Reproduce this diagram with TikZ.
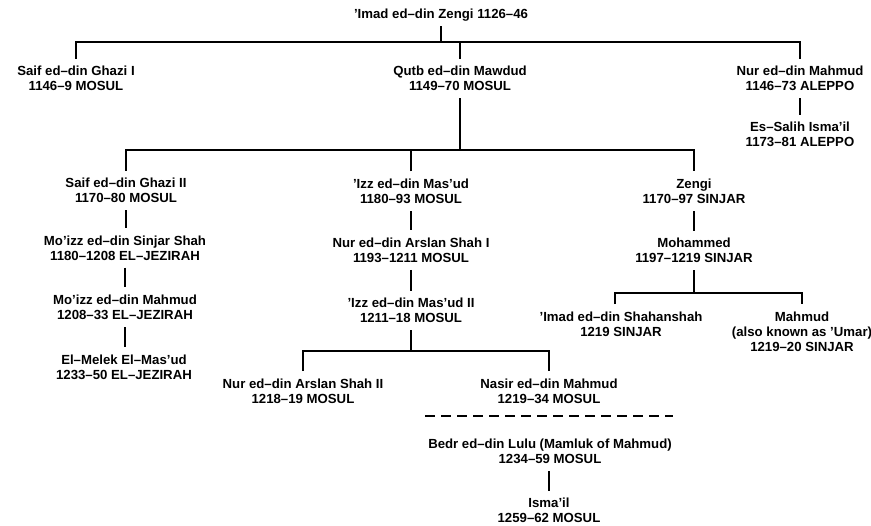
\documentclass[tikz,border=0pt]{standalone}
\usepackage{fontspec}
\setmainfont{Liberation Sans}
\newcommand\zTop{\rule{0pt}{14pt}}
\newcommand\zBot{\rule[-4.35pt]{0pt}{4.35pt}}
\begin{document}
\begin{tikzpicture}[x=1pt,y=-1pt,
  person/.style={align=center, inner xsep=2pt, inner ysep=3pt, font=\fontsize{13.2}{15}\selectfont\bfseries},
  link/.style={line width=1.4pt},
  sepline/.style={line width=1.4pt, dash pattern=on 10pt off 6pt}]
\useasboundingbox (0,0) rectangle (871,526);

% generation 0
\node[person] (zengi) at (441,13.7) {\zTop ’Imad ed–din Zengi 1126–46\zBot};
% generation 1
\node[person] (saif1) at (76,78.5) {\zTop Saif ed–din Ghazi I\\1146–9 MOSUL\zBot};
\node[person] (qutb) at (460,78.5) {\zTop Qutb ed–din Mawdud\\1149–70 MOSUL\zBot};
\node[person] (nur1) at (800,78.5) {\zTop Nur ed–din Mahmud\\1146–73 ALEPPO\zBot};
\node[person] (salih) at (800,134.5) {\zTop Es–Salih Isma’il\\1173–81 ALEPPO\zBot};
% generation 2
\node[person] (saif2) at (126,190.5) {\zTop Saif ed–din Ghazi II\\1170–80 MOSUL\zBot};
\node[person] (sinjar) at (125,247.7) {\zTop Mo’izz ed–din Sinjar Shah\\1180–1208 EL–JEZIRAH\zBot};
\node[person] (mahmudj) at (125,307.3) {\zTop Mo’izz ed–din Mahmud\\1208–33 EL–JEZIRAH\zBot};
\node[person] (melek) at (124,367) {\zTop El–Melek El–Mas’ud\\1233–50 EL–JEZIRAH\zBot};

\node[person] (izz1) at (411,191.3) {\zTop ’Izz ed–din Mas’ud\\1180–93 MOSUL\zBot};
\node[person] (arslan1) at (411,250) {\zTop Nur ed–din Arslan Shah I\\1193–1211 MOSUL\zBot};
\node[person] (izz2) at (411,310.4) {\zTop ’Izz ed–din Mas’ud II\\1211–18 MOSUL\zBot};
\node[person] (arslan2) at (303,391) {\zTop Nur ed–din Arslan Shah II\\1218–19 MOSUL\zBot};
\node[person] (nasir) at (549,391) {\zTop Nasir ed–din Mahmud\\1219–34 MOSUL\zBot};
\node[person] (bedr) at (550,451.3) {\zTop Bedr ed–din Lulu (Mamluk of Mahmud)\\1234–59 MOSUL\zBot};
\node[person] (ismail) at (549,510.5) {\zTop Isma’il\\1259–62 MOSUL\zBot};

\node[person] (zengi2) at (694,191.3) {\zTop Zengi\\1170–97 SINJAR\zBot};
\node[person] (mohammed) at (694,250.4) {\zTop Mohammed\\1197–1219 SINJAR\zBot};
\node[person] (shahan) at (621,323.9) {\zTop ’Imad ed–din Shahanshah\\1219 SINJAR\zBot};
\node[person] (mahmudu) at (802,331.7) {\zTop Mahmud\\(also known as ’Umar)\\1219–20 SINJAR\zBot};

% bar levels
\coordinate (bar1) at (441,42);
\coordinate (bar2) at (460,150);
\coordinate (bar3) at (411,351);
\coordinate (bar4) at (694,293);
\coordinate (dashL) at (425,416);
\coordinate (dashR) at (673,416);

% connectors
\draw[link] (zengi.south) -- (bar1);
\draw[link] (saif1.north) |- (nur1.north |- bar1) -- (nur1.north);
\draw[link] (qutb.north) -- (qutb.north |- bar1);
\draw[link] (nur1.south) -- (salih.north);

\draw[link] (qutb.south) -- (bar2);
\draw[link] (saif2.north) |- (zengi2.north |- bar2) -- (zengi2.north);
\draw[link] (izz1.north) -- (izz1.north |- bar2);

\draw[link] (saif2.south) -- (sinjar.north -| saif2.south);
\draw[link] (sinjar.south) -- (mahmudj.north);
\draw[link] (mahmudj.south) -- (melek.north -| mahmudj.south);

\draw[link] (izz1.south) -- (arslan1.north);
\draw[link] (arslan1.south) -- (izz2.north);
\draw[link] (izz2.south) -- (bar3);
\draw[link] (arslan2.north) |- (nasir.north |- bar3) -- (nasir.north);

\draw[sepline] (dashL) -- (dashR);
\draw[link] (bedr.south -| ismail.north) -- (ismail.north);

\draw[link] (zengi2.south) -- (mohammed.north);
\draw[link] (mohammed.south) -- (bar4);
\draw[link] ([xshift=-6pt]shahan.north) |- (mahmudu.north |- bar4) -- (mahmudu.north);
\end{tikzpicture}
\end{document}
